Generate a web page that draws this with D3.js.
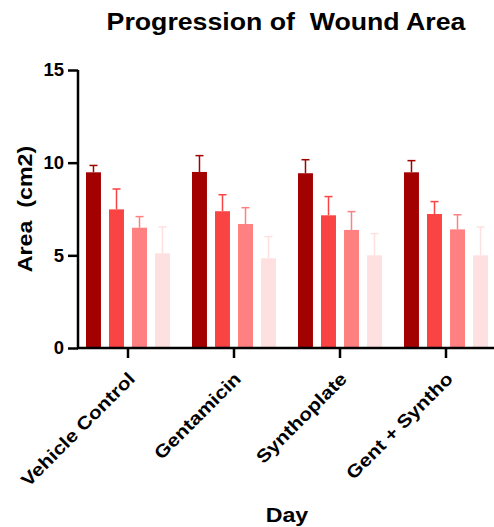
<!DOCTYPE html>
<html>
<head>
<meta charset="utf-8">
<script src="https://cdn.jsdelivr.net/npm/d3@7"></script>
<style>
  html, body { margin: 0; padding: 0; background: #fff; }
  svg { display: block; font-family: "Liberation Sans", Arial, sans-serif; }
</style>
</head>
<body>
<div id="chart"></div>
<script>
const groups = ["Vehicle Control", "Gentamicin", "Synthoplate", "Gent + Syntho"];
const series = ["Day 1", "Day 2", "Day 3", "Day 4"];
const means = [
  [9.48, 7.48, 6.49, 5.11],
  [9.50, 7.38, 6.69, 4.84],
  [9.43, 7.16, 6.37, 5.00],
  [9.48, 7.23, 6.40, 5.00]
];
const errors = [
  [0.37, 1.10, 0.60, 1.42],
  [0.88, 0.89, 0.88, 1.17],
  [0.73, 1.01, 0.99, 1.17],
  [0.63, 0.67, 0.79, 1.53]
];
const yTicks = [0, 5, 10, 15];
const colors = ["#a30000", "#fa4343", "#ff8080", "#ffe0e0"];

const W = 494, H = 527;
const widen = 1.16; // reference font runs wider than Liberation Sans

const svg = d3.select("#chart").append("svg")
  .attr("width", W).attr("height", H);

function stretch(sel) {
  sel.each(function () {
    const len = this.getComputedTextLength();
    d3.select(this).attr("textLength", len * widen).attr("lengthAdjust", "spacingAndGlyphs");
  });
}

const x0 = d3.scaleBand().domain(groups).range([75, 499]);
const x1 = d3.scaleBand().domain(series).range([11, 95]).paddingInner(0.35).paddingOuter(0);
const y = d3.scaleLinear().domain([0, 15]).range([348, 70]);

// Bars with upper error bars
groups.forEach((g, gi) => {
  series.forEach((s, si) => {
    const bx = x0(g) + x1(s);
    const bw = x1.bandwidth();
    const v = means[gi][si];
    const e = errors[gi][si];
    const cx = bx + bw / 2;
    svg.append("line")
      .attr("x1", cx).attr("x2", cx)
      .attr("y1", y(v)).attr("y2", y(v + e))
      .attr("stroke", colors[si]).attr("stroke-width", 1.5);
    svg.append("line")
      .attr("x1", cx - 4).attr("x2", cx + 4)
      .attr("y1", y(v + e)).attr("y2", y(v + e))
      .attr("stroke", colors[si]).attr("stroke-width", 1.5);
    svg.append("rect")
      .attr("x", bx).attr("y", y(v))
      .attr("width", bw).attr("height", y(0) - y(v))
      .attr("fill", colors[si]);
  });
});

// Y axis
const yAxis = svg.append("g")
  .attr("transform", "translate(78,0)")
  .call(d3.axisLeft(y).tickValues(yTicks).tickSize(10).tickPadding(4));
yAxis.select(".domain").attr("stroke", "#000").attr("stroke-width", 2.5)
  .attr("d", `M0,${y(15)}V${y(0)}`);
yAxis.selectAll(".tick line").attr("stroke", "#000").attr("stroke-width", 2.5);
yAxis.selectAll("text")
  .attr("fill", "#000").style("font-size", "18.5px").style("font-weight", "bold")
  .style("font-family", "Liberation Sans, Arial, sans-serif");

// X axis
const xAxis = svg.append("g")
  .attr("transform", `translate(0,${y(0)})`)
  .call(d3.axisBottom(x0).tickSize(10));
xAxis.select(".domain").attr("stroke", "#000").attr("stroke-width", 2.5)
  .attr("d", `M77,0H494`);
xAxis.selectAll(".tick line").attr("stroke", "#000").attr("stroke-width", 2.5);
xAxis.selectAll("text")
  .attr("fill", "#000").style("font-size", "18px").style("font-weight", "bold")
  .style("font-family", "Liberation Sans, Arial, sans-serif")
  .attr("text-anchor", "end")
  .attr("x", 0).attr("y", 0).attr("dy", null)
  .attr("transform", "translate(8,32) rotate(-45)")
  .call(stretch);

// Title
svg.append("text")
  .attr("x", 286).attr("y", 30)
  .attr("text-anchor", "middle")
  .style("font-size", "23px").style("font-weight", "bold")
  .style("white-space", "pre")
  .text("Progression of  Wound Area")
  .call(stretch);

// Y label
svg.append("text")
  .attr("transform", "translate(32,209) rotate(-90)")
  .attr("text-anchor", "middle")
  .style("font-size", "20px").style("font-weight", "bold")
  .style("white-space", "pre")
  .text("Area  (cm2)")
  .call(stretch);

// X label
svg.append("text")
  .attr("x", 287).attr("y", 522)
  .attr("text-anchor", "middle")
  .style("font-size", "20px").style("font-weight", "bold")
  .text("Day")
  .call(stretch);
</script>
</body>
</html>
